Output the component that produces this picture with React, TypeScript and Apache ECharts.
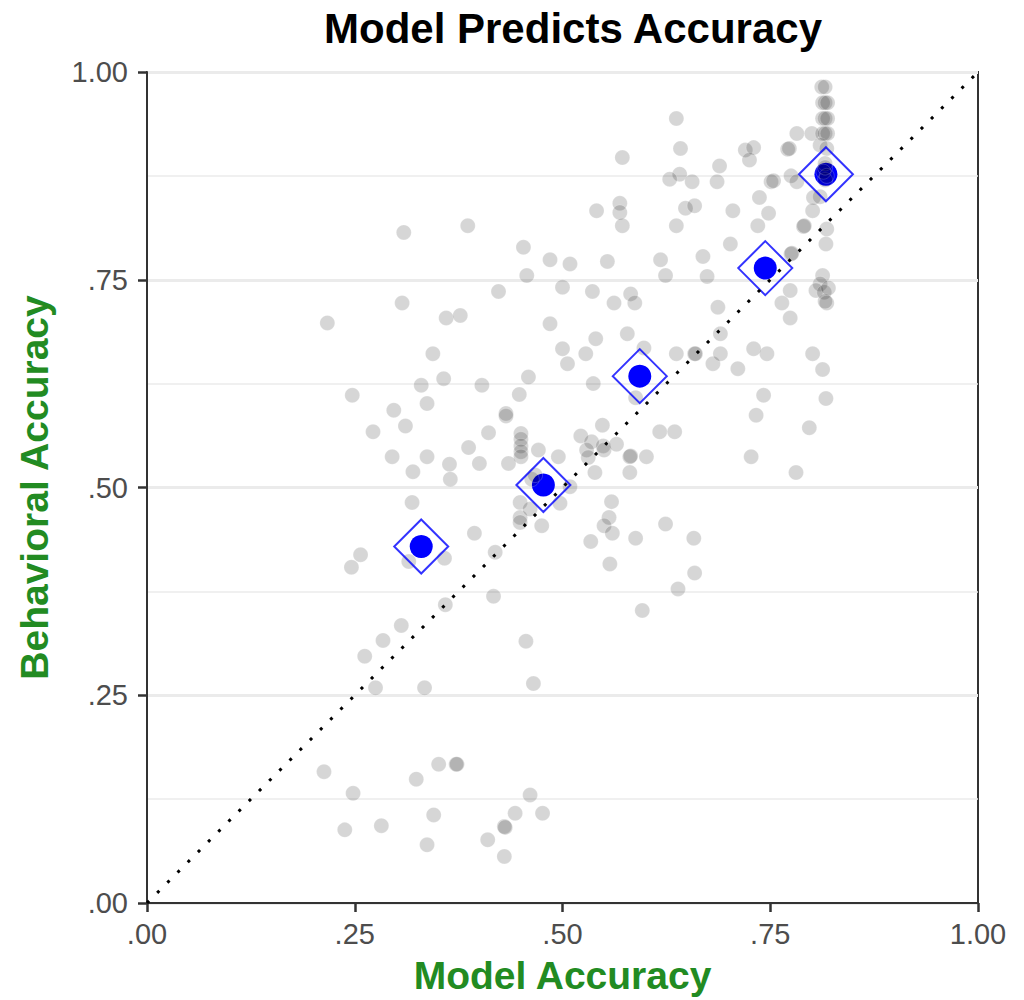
import React, { useEffect, useRef } from "react";
import * as echarts from "echarts";

const TITLE = "Model Predicts Accuracy";
const X_TITLE = "Model Accuracy";
const Y_TITLE = "Behavioral Accuracy";
const tickLabels = [".00", ".25", ".50", ".75", "1.00"];

// individual items: [model accuracy, behavioral accuracy]
const itemPoints: [number, number][] = [
  [0.309, 0.807], [0.386, 0.815], [0.453, 0.789], [0.485, 0.774], [0.457, 0.755],
  [0.5, 0.741], [0.423, 0.736], [0.307, 0.722], [0.217, 0.698], [0.36, 0.704],
  [0.377, 0.707], [0.485, 0.697], [0.5, 0.667], [0.344, 0.661], [0.357, 0.631],
  [0.459, 0.633], [0.247, 0.611], [0.33, 0.623], [0.403, 0.623], [0.297, 0.593],
  [0.337, 0.601], [0.448, 0.612], [0.432, 0.589], [0.432, 0.586], [0.272, 0.567],
  [0.311, 0.574], [0.411, 0.566], [0.45, 0.565], [0.45, 0.558], [0.45, 0.55],
  [0.45, 0.543], [0.45, 0.537], [0.471, 0.545], [0.495, 0.537], [0.295, 0.537],
  [0.337, 0.537], [0.387, 0.548], [0.364, 0.528], [0.4, 0.529], [0.435, 0.529],
  [0.32, 0.519], [0.365, 0.51], [0.463, 0.51], [0.467, 0.515], [0.319, 0.482],
  [0.449, 0.482], [0.449, 0.464], [0.449, 0.458], [0.461, 0.474], [0.475, 0.454],
  [0.394, 0.445], [0.257, 0.419], [0.246, 0.404], [0.315, 0.411], [0.358, 0.415],
  [0.419, 0.422], [0.359, 0.359], [0.417, 0.369], [0.306, 0.334], [0.284, 0.316],
  [0.262, 0.297], [0.456, 0.315], [0.497, 0.481], [0.509, 0.501],
  [0.275, 0.259], [0.334, 0.259], [0.465, 0.264], [0.213, 0.158], [0.248, 0.132],
  [0.238, 0.088], [0.282, 0.093], [0.324, 0.149], [0.351, 0.167], [0.372, 0.167],
  [0.373, 0.167], [0.345, 0.106], [0.337, 0.07], [0.41, 0.076], [0.43, 0.092],
  [0.431, 0.091], [0.443, 0.108], [0.43, 0.056], [0.461, 0.13], [0.476, 0.108],
  [0.537, 0.625], [0.588, 0.608], [0.742, 0.611], [0.817, 0.607], [0.733, 0.587],
  [0.797, 0.572], [0.548, 0.575], [0.522, 0.562], [0.535, 0.555], [0.529, 0.545],
  [0.531, 0.536], [0.549, 0.55], [0.55, 0.545], [0.565, 0.552], [0.617, 0.567],
  [0.635, 0.567], [0.581, 0.537], [0.582, 0.538], [0.601, 0.537], [0.539, 0.518],
  [0.581, 0.518], [0.727, 0.537], [0.781, 0.518], [0.559, 0.483], [0.556, 0.464],
  [0.55, 0.454], [0.56, 0.445], [0.534, 0.435], [0.588, 0.439], [0.624, 0.456],
  [0.658, 0.439], [0.557, 0.408], [0.659, 0.397], [0.639, 0.378], [0.596, 0.352],
  [0.637, 0.944], [0.642, 0.908], [0.572, 0.897], [0.782, 0.926], [0.8, 0.926],
  [0.72, 0.906], [0.73, 0.909], [0.725, 0.894], [0.771, 0.907], [0.773, 0.908],
  [0.689, 0.887], [0.641, 0.877], [0.629, 0.871], [0.656, 0.868], [0.686, 0.868],
  [0.751, 0.868], [0.775, 0.875], [0.782, 0.868], [0.802, 0.849], [0.737, 0.849],
  [0.569, 0.842], [0.569, 0.831], [0.541, 0.833], [0.572, 0.815], [0.648, 0.836],
  [0.659, 0.839], [0.637, 0.815], [0.705, 0.833], [0.748, 0.83], [0.735, 0.815],
  [0.801, 0.833], [0.79, 0.814], [0.791, 0.815], [0.818, 0.811], [0.817, 0.793],
  [0.702, 0.793], [0.775, 0.781], [0.776, 0.782], [0.509, 0.769], [0.554, 0.772],
  [0.618, 0.774], [0.669, 0.778], [0.624, 0.755], [0.674, 0.754], [0.536, 0.736],
  [0.582, 0.733], [0.587, 0.722], [0.562, 0.722], [0.687, 0.717], [0.774, 0.737],
  [0.764, 0.722], [0.774, 0.704], [0.813, 0.755], [0.81, 0.745], [0.805, 0.737],
  [0.815, 0.735], [0.82, 0.74], [0.818, 0.722], [0.816, 0.724], [0.69, 0.685],
  [0.578, 0.685], [0.54, 0.679], [0.528, 0.661], [0.506, 0.649], [0.637, 0.661],
  [0.659, 0.661], [0.66, 0.661], [0.681, 0.649], [0.69, 0.661], [0.73, 0.667],
  [0.746, 0.661], [0.711, 0.643], [0.801, 0.661], [0.813, 0.642], [0.598, 0.668],
  [0.812, 0.982], [0.816, 0.982], [0.813, 0.963], [0.816, 0.963], [0.819, 0.963],
  [0.813, 0.944], [0.816, 0.944], [0.819, 0.944], [0.813, 0.926], [0.816, 0.926],
  [0.819, 0.926], [0.81, 0.912], [0.818, 0.908], [0.816, 0.89], [0.816, 0.87],
  [0.81, 0.85], [0.754, 0.869], [0.814, 0.88], [0.818, 0.875], [0.816, 0.885],
];

// binned means
const meanModel = [0.33, 0.477, 0.593, 0.744, 0.817];
const meanBehav = [0.429, 0.503, 0.634, 0.764, 0.877];

const FONT = "'Liberation Sans', Arial, Helvetica, sans-serif";
const GREEN = "#228B22";

export default function App() {
  const ref = useRef<HTMLDivElement>(null);

  useEffect(() => {
    if (!ref.current) return;
    const chart = echarts.init(ref.current, null, { renderer: "svg" });
    const means = meanModel.map((m, i) => [m, meanBehav[i]]);
    const fmt = (v: number) => tickLabels[Math.round(v / 0.25)] ?? "";

    chart.setOption({
      animation: false,
      backgroundColor: "#ffffff",
      textStyle: { fontFamily: FONT },
      title: {
        text: TITLE,
        left: 568,
        textAlign: "center",
        top: 2,
        textStyle: { fontFamily: FONT, fontSize: 42, fontWeight: "bold", color: "#000" },
      },
      grid: {
        left: 147,
        top: 72,
        width: 831,
        height: 833,
        show: true,
        borderColor: "#333333",
        borderWidth: 2,
        backgroundColor: "transparent",
      },
      xAxis: {
        type: "value",
        min: 0,
        max: 1,
        interval: 0.25,
        name: X_TITLE,
        nameLocation: "middle",
        nameGap: 53,
        nameTextStyle: { fontFamily: FONT, fontSize: 39, fontWeight: "bold", color: GREEN },
        axisLine: { show: true, lineStyle: { color: "#333333", width: 2 } },
        axisTick: { show: true, length: 9, lineStyle: { color: "#333333", width: 2.5 } },
        axisLabel: {
          formatter: fmt,
          fontFamily: FONT,
          fontSize: 29,
          color: "#4d4d4d",
          margin: 16,
          showMinLabel: true,
          showMaxLabel: true,
        },
        splitLine: { show: false },
      },
      yAxis: {
        type: "value",
        min: 0,
        max: 1,
        interval: 0.25,
        name: Y_TITLE,
        nameLocation: "middle",
        nameGap: 93,
        nameRotate: 90,
        nameTextStyle: { fontFamily: FONT, fontSize: 39, fontWeight: "bold", color: GREEN },
        axisLine: { show: true, lineStyle: { color: "#333333", width: 2 } },
        axisTick: { show: true, length: 9, lineStyle: { color: "#333333", width: 2.5 } },
        axisLabel: {
          formatter: fmt,
          fontFamily: FONT,
          fontSize: 29,
          color: "#4d4d4d",
          margin: 19,
          showMinLabel: true,
          showMaxLabel: true,
        },
        splitLine: { show: true, lineStyle: { color: "#ebebeb", width: 3 } },
        minorTick: { show: false, splitNumber: 2 },
        minorSplitLine: { show: true, lineStyle: { color: "#ebebeb", width: 1.5 } },
      },
      series: [
        {
          name: "meanDots",
          type: "scatter",
          data: means,
          symbol: "circle",
          symbolSize: 23,
          itemStyle: { color: "#0000ff", opacity: 1 },
          silent: true,
          z: 2,
        },
        {
          name: "items",
          type: "scatter",
          data: itemPoints,
          symbol: "circle",
          symbolSize: 15,
          itemStyle: {
            color: "rgba(0,0,0,0.2)",
            borderColor: "rgba(255,255,255,0.25)",
            borderWidth: 1,
          },
          silent: true,
          z: 3,
        },
        {
          name: "meanDiamonds",
          type: "scatter",
          data: means,
          symbol: "diamond",
          symbolSize: [54, 54],
          itemStyle: { color: "rgba(0,0,0,0)", borderColor: "#0000ff", borderWidth: 2 },
          silent: true,
          z: 4,
        },
        {
          name: "identity",
          type: "line",
          data: [
            [0, 0],
            [1, 1],
          ],
          symbol: "none",
          lineStyle: { color: "#000000", width: 3, type: [3, 11.4], cap: "butt" },
          silent: true,
          z: 5,
        },
      ],
    });
    return () => chart.dispose();
  }, []);

  return (
    <div
      ref={ref}
      style={{ position: "absolute", left: 0, top: 0, width: 1024, height: 1000 }}
    />
  );
}
